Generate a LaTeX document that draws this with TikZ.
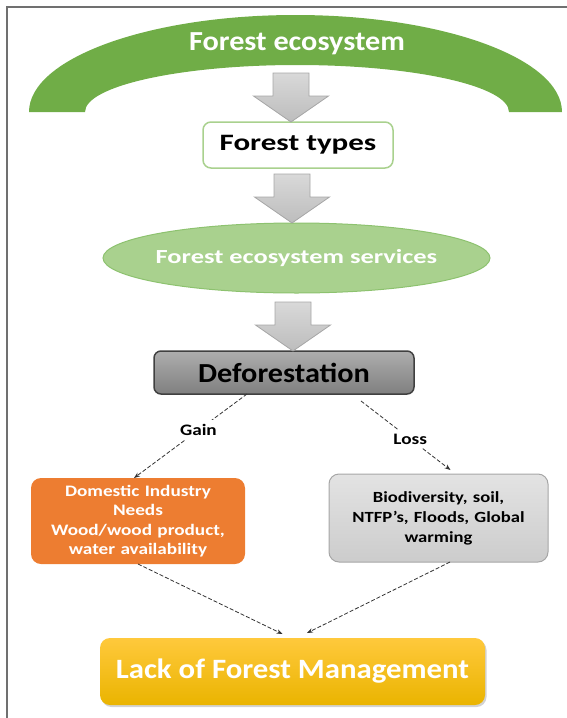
\documentclass[tikz,border=0pt]{standalone}
\usepackage{fontspec}
\setmainfont{Carlito}
\newfontfamily\wideA[FakeStretch=1.1]{Carlito}
\newfontfamily\wideB[FakeStretch=1.32]{Carlito}
\newfontfamily\wideC[FakeStretch=1.2]{Carlito}
\usetikzlibrary{arrows.meta, positioning, shapes.geometric, shadows}

\definecolor{archgreen}{HTML}{70AD47}
\definecolor{lightgreen}{HTML}{A9D18E}
\definecolor{edgegreen}{HTML}{8DC26F}
\definecolor{orangefill}{HTML}{ED7D31}
\definecolor{framegray}{HTML}{707070}

\begin{document}
\begin{tikzpicture}[
        x=1pt, y=-1pt,
        every node/.style={inner sep=0pt, outer sep=0pt, align=center},
        archtext/.style={text=white, font=\wideA\bfseries\fontsize{27.5}{30}\selectfont},
        typebox/.style={rectangle, rounded corners=8pt, draw=lightgreen, line width=1.5pt, fill=white, minimum width=190pt, minimum height=46pt, font=\wideB\bfseries\fontsize{23.5}{26}\selectfont},
        svcbox/.style={ellipse, draw=edgegreen, line width=1pt, fill=lightgreen, minimum width=387pt, minimum height=70pt},
        svctext/.style={text=white, font=\wideB\bfseries\fontsize{20}{24}\selectfont},
        deforbox/.style={rectangle, rounded corners=7pt, draw=black!75, line width=1.5pt, top color=black!32, bottom color=black!50, minimum width=260pt, minimum height=43pt, font=\wideA\bfseries\fontsize{27.5}{30}\selectfont},
        gainbox/.style={rectangle, rounded corners=10pt, fill=orangefill, text=white, minimum width=214pt, minimum height=86pt, text width=214pt, font=\wideC\bfseries\fontsize{16}{19.5}\selectfont},
        lossbox/.style={rectangle, rounded corners=10pt, draw=black!35, line width=1pt, top color=black!11, bottom color=black!20, minimum width=219pt, minimum height=88pt, text width=219pt, font=\wideC\bfseries\fontsize{15.5}{20}\selectfont},
        lackbox/.style={rectangle, rounded corners=10pt, top color={rgb,255:red,255;green,201;blue,60}, bottom color={rgb,255:red,234;green,180;blue,0}, text=white, minimum width=385pt, minimum height=67pt, font=\wideA\bfseries\fontsize{28}{30}\selectfont, drop shadow={shadow xshift=1.5pt, shadow yshift=-2pt, opacity=0.35}},
        arrowfill/.style={draw=black!35, line width=0.8pt, top color=black!15, bottom color=black!26},
        dasharrow/.style={draw=black!80, line width=0.8pt, dash pattern=on 4pt off 2pt, -{Stealth[length=6pt, width=4.5pt]}},
        connlabel/.style={fill=white, inner sep=4pt, font=\wideC\bfseries\fontsize{16}{18}\selectfont},
        downarrow/.pic={
            \draw[arrowfill] (-18,-49) -- (18,-49) -- (18,-26) -- (37.5,-26) -- (0,0) -- (-37.5,-26) -- (-18,-26) -- cycle;
        }
    ]
        \useasboundingbox (0,0) rectangle (566,718);
        % frame
        \draw[framegray, line width=1.5pt] (7,725) -- (7,7) -- (575,7);

        % arch on top
        \fill[archgreen] (29,112) arc[start angle=180, end angle=360, x radius=266.5, y radius=97]
            -- (509,112) arc[start angle=360, end angle=180, x radius=212, y radius=47] -- cycle;
        \node[archtext] (eco) at (297,44) {Forest ecosystem};

        % Nodes
        \node[typebox] (types) at (298,145) {Forest types};
        \node[svcbox, below=55pt of types, xshift=-1.5pt, label={[svctext]center:Forest ecosystem services}] (services) {};
        \node[deforbox, below=58pt of services, xshift=-12.5pt] (defor) {Deforestation};
        \node[gainbox] (gain) at (138,521) {Domestic Industry\\ Needs\\ Wood/wood product,\\ water availability};
        \node[lossbox] (loss) at (438.5,518) {Biodiversity, soil,\\ NTFP’s, Floods, Global\\ warming};
        \node[lackbox] (lack) at (292.5,671.5) {Lack of Forest Management};

        % Block arrows
        \pic at ([xshift=-7pt]types.north) {downarrow};
        \pic at ([xshift=-4.5pt]services.north) {downarrow};
        \pic at ([xshift=9pt]defor.north) {downarrow};

        % Arrows
        \draw[dasharrow] ([xshift=-37pt]defor.south) -- node[connlabel, pos=0.43] {Gain} ([xshift=-4pt]gain.north);
        \draw[dasharrow] ([xshift=77pt, yshift=-7pt]defor.south) -- node[connlabel, pos=0.55] {Loss} ([xshift=12pt, yshift=4pt]loss.north);
        \draw[dasharrow] (gain.south) -- ([xshift=-10pt, yshift=4pt]lack.north);
        \draw[dasharrow] ([xshift=11.5pt]loss.south) -- ([xshift=14.5pt, yshift=5pt]lack.north);
    \end{tikzpicture}
\end{document}
